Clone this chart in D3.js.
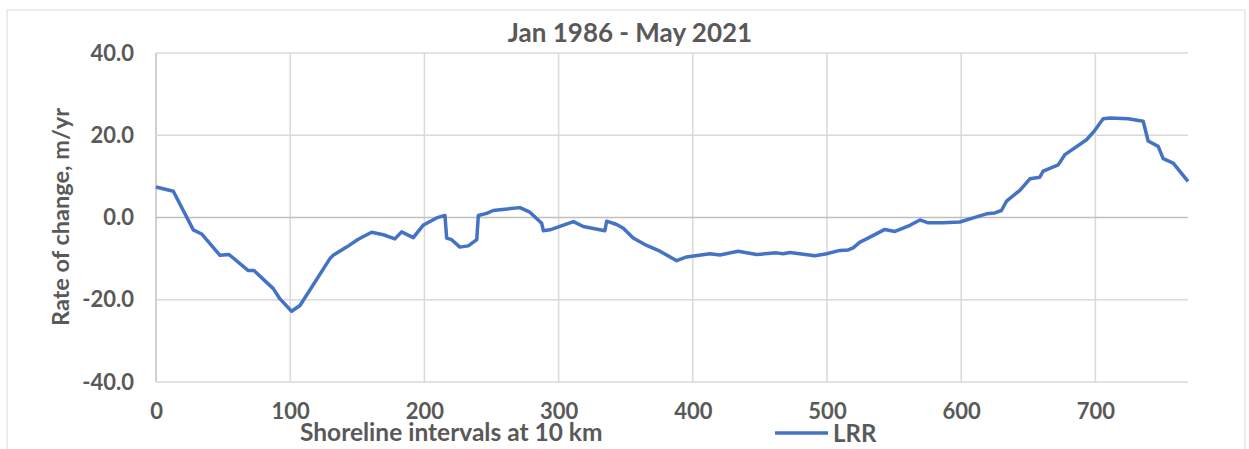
<!DOCTYPE html>
<html>
<head>
<meta charset="utf-8">
<script src="https://cdn.jsdelivr.net/npm/d3@7"></script>
<style>
  body { margin: 0; background: #fff; }
  text { font-family: Lato, "Open Sans", sans-serif; font-weight: bold; fill: #595959; }
</style>
</head>
<body>
<script>
// LRR values: [interval, rate m/yr]
const intervals = [0, 12.9, 27.8, 34, 47.7, 54.4, 68.8, 73, 87.4, 92.4, 101, 107.3, 129.6, 132, 142, 150.7, 160.7, 169.4, 178, 183, 191.7,
  199, 209, 215.3, 216.6, 220.3, 226.5, 232.7, 239, 240.2, 246.4, 251.3, 256.3, 271.2, 278.6, 287.4, 288.6, 293.6, 311, 318.4, 334.5, 335.8,
  343.3, 348.2, 355.6, 365.6, 375.5, 388, 395.4, 412.8, 420.2, 433.8, 447.5, 462.4, 467.4, 472.4, 491, 499.7, 509.6, 515.8, 519.5, 524.5,
  529.5, 543.1, 550.6, 561.8, 569.2, 575.4, 586.6, 599, 609, 618.9, 625, 630, 633.8, 643.7, 651.2, 658.6, 661.1, 672.3, 677.3, 693.4,
  699.6, 705.8, 710.8, 724.4, 735.6, 739.3, 746.8, 750.5, 758, 769];
const lrr = [7.4, 6.4, -3.0, -4.0, -9.2, -9.0, -12.9, -12.9, -17.3, -19.8, -22.8, -21.4, -10.0, -9.2, -7.2, -5.3, -3.6, -4.2, -5.2, -3.5, -4.9,
  -1.9, -0.1, 0.5, -5.0, -5.4, -7.2, -6.9, -5.4, 0.5, 1.0, 1.7, 1.9, 2.4, 1.3, -1.4, -3.2, -3.0, -1.0, -2.2, -3.2, -0.9,
  -1.7, -2.6, -5.0, -6.8, -8.2, -10.5, -9.6, -8.8, -9.1, -8.2, -9.0, -8.6, -8.8, -8.5, -9.3, -8.8, -8.0, -7.9, -7.4, -6.0,
  -5.2, -2.9, -3.4, -1.9, -0.6, -1.3, -1.3, -1.1, -0.1, 0.9, 1.1, 1.7, 4.0, 6.6, 9.4, 9.8, 11.3, 12.8, 15.3, 18.9,
  21.2, 24.0, 24.2, 24.0, 23.4, 18.6, 17.3, 14.3, 13.2, 8.8];
const xTicks = [0, 100, 200, 300, 400, 500, 600, 700];
const yTicks = [-40, -20, 0, 20, 40];

const W = 1249, H = 449;
const plot = { left: 156, right: 1188, top: 53, bottom: 382 };

const svg = d3.select("body").append("svg")
  .attr("width", W)
  .attr("height", H);

// chart frame
svg.append("rect")
  .attr("x", 7).attr("y", 10)
  .attr("width", 1238).attr("height", 460)
  .attr("fill", "#fff")
  .attr("stroke", "#d9d9d9");

const x = d3.scaleLinear().domain([0, 769]).range([plot.left, plot.right]);
const y = d3.scaleLinear().domain([-40, 40]).range([plot.bottom, plot.top]);

// grid
let grid = svg.append("g");
grid.selectAll(".gx")
  .data(xTicks)
  .enter().append("line")
  .attr("x1", d => x(d)).attr("x2", d => x(d))
  .attr("y1", plot.top).attr("y2", plot.bottom)
  .attr("stroke", d => d === 0 ? "#bfbfbf" : "#d9d9d9")
  .attr("stroke-width", 1.5);
grid.selectAll(".gy")
  .data(yTicks)
  .enter().append("line")
  .attr("x1", plot.left).attr("x2", plot.right)
  .attr("y1", d => y(d)).attr("y2", d => y(d))
  .attr("stroke", d => d === 0 ? "#bfbfbf" : "#d9d9d9")
  .attr("stroke-width", 1.5);

// y axis labels (Excel style hyphen minus)
const yAxis = svg.append("g")
  .attr("transform", `translate(${plot.left},0)`)
  .call(d3.axisLeft(y).tickValues(yTicks).tickFormat(d => d.toFixed(1)).tickSize(0).tickPadding(22));
yAxis.select(".domain").remove();
yAxis.selectAll("text").style("font-size", "22px").attr("fill", "#595959");

// x axis labels
const xAxis = svg.append("g")
  .attr("transform", `translate(0,${plot.bottom})`)
  .call(d3.axisBottom(x).tickValues(xTicks).tickSize(0).tickPadding(21));
xAxis.select(".domain").remove();
xAxis.selectAll("text").style("font-size", "22px").attr("fill", "#595959");

// LRR line
const line = d3.line()
  .x((d, i) => x(intervals[i]))
  .y(d => y(d));
svg.append("path")
  .datum(lrr)
  .attr("fill", "none")
  .attr("stroke", "#4472c4")
  .attr("stroke-width", 3.5)
  .attr("stroke-linejoin", "round")
  .attr("d", line);

// titles
svg.append("text")
  .attr("x", 630).attr("y", 42)
  .attr("text-anchor", "middle")
  .style("font-size", "26px")
  .text("Jan 1986 - May 2021");

svg.append("text")
  .attr("transform", "translate(69,217) rotate(-90)")
  .attr("text-anchor", "middle")
  .style("font-size", "23.5px")
  .text("Rate of change, m/yr");

svg.append("text")
  .attr("x", 300).attr("y", 441)
  .style("font-size", "24.5px")
  .text("Shoreline intervals at 10 km");

// legend
svg.append("line")
  .attr("x1", 775).attr("x2", 828)
  .attr("y1", 433).attr("y2", 433)
  .attr("stroke", "#4472c4")
  .attr("stroke-width", 3.5);
svg.append("text")
  .attr("x", 833).attr("y", 442)
  .style("font-size", "24px")
  .text("LRR");
</script>
</body>
</html>
